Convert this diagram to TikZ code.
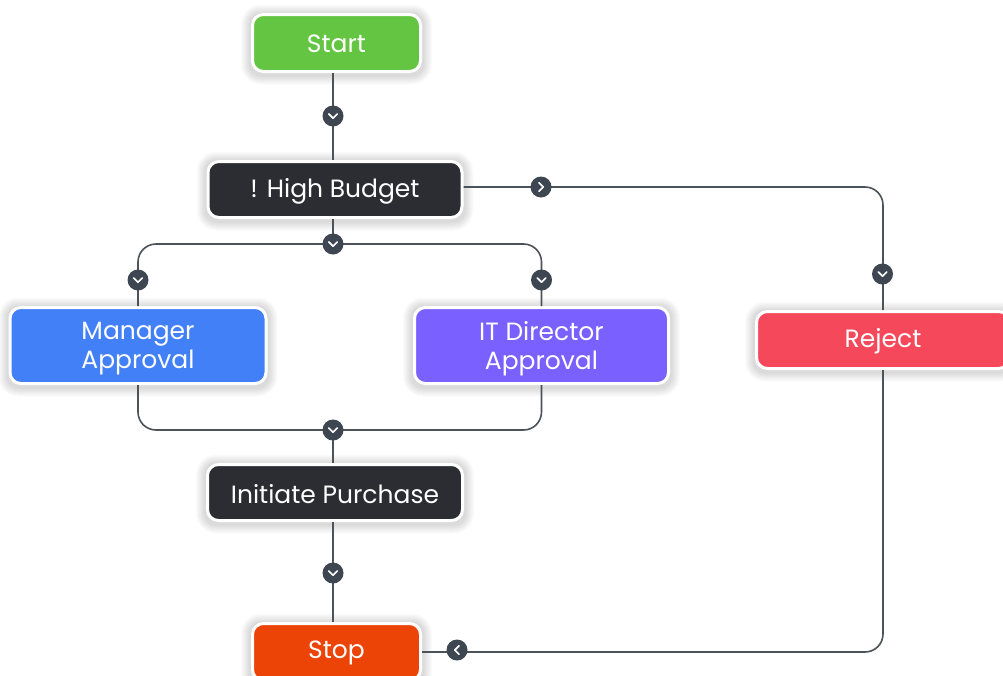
\documentclass[tikz,border=0pt]{standalone}
\usepackage{fontspec}
\setmainfont{Poppins}
\usetikzlibrary{calc,backgrounds}

\definecolor{cgreen}{HTML}{64C542}
\definecolor{cdark}{HTML}{2C2D33}
\definecolor{cblue}{HTML}{4280F8}
\definecolor{cpurple}{HTML}{7A60FE}
\definecolor{cred}{HTML}{F5495B}
\definecolor{corange}{HTML}{EC4307}
\definecolor{cline}{HTML}{4B5258}
\definecolor{cchev}{HTML}{3E4751}

\tikzset{
  box/.style={draw=white, line width=3pt, rounded corners=11pt, inner sep=0pt},
  lbl/.style={text=white, align=center, inner sep=0pt,
    font=\fontsize{25}{29}\selectfont},
  conn/.style={draw=cline, line width=1.6pt, rounded corners=18pt},
  chev/.style={circle, fill=cchev, minimum size=21pt, inner sep=0pt},
  chevdown/.style={chev, path picture={
    \draw[white, line width=1.7pt, line cap=round, line join=round]
      ([xshift=-4.2pt,yshift=2pt]path picture bounding box.center)
      -- ++(4.2pt,-4.2pt) -- ++(4.2pt,4.2pt);}},
  chevright/.style={chev, path picture={
    \draw[white, line width=1.7pt, line cap=round, line join=round]
      ([xshift=-2pt,yshift=4.2pt]path picture bounding box.center)
      -- ++(4.2pt,-4.2pt) -- ++(-4.2pt,-4.2pt);}},
  chevleft/.style={chev, path picture={
    \draw[white, line width=1.7pt, line cap=round, line join=round]
      ([xshift=2pt,yshift=4.2pt]path picture bounding box.center)
      -- ++(-4.2pt,-4.2pt) -- ++(4.2pt,-4.2pt);}},
}

\begin{document}
\begin{tikzpicture}[x=1pt, y=-1pt]
\clip (0,0) rectangle (1003,675);

% process boxes
\node[box, fill=cgreen, minimum width=168pt, minimum height=57pt] (start) at (336.5,43) {};
\node[box, fill=cdark, minimum width=254pt, minimum height=56pt] (budget) at (335,189.5) {};
\node[box, fill=cblue, minimum width=256pt, minimum height=76pt] (mgr) at (138,345.5) {};
\node[box, fill=cpurple, minimum width=254pt, minimum height=76pt] (it) at (541.5,345.5) {};
\node[box, fill=cred, minimum width=253pt, minimum height=57pt] (reject) at (883,340) {};
\node[box, fill=cdark, minimum width=255pt, minimum height=56pt] (buy) at (335,492.5) {};
\node[box, fill=corange, minimum width=168pt, minimum height=57pt] (stop) at (336.5,652) {};

% box texts
\node[lbl] (start-t)  at ($(start)+(0,1)$)  {Start};
\node[lbl] (budget-t) at ($(budget)+(0,2)$) {! High Budget};
\node[lbl] (mgr-t)    at ($(mgr)+(0,3)$)    {Manager\\Approval};
\node[lbl] (it-t)     at ($(it)+(0,3)$)     {IT Director\\Approval};
\node[lbl] (reject-t) at ($(reject)+(0,1.5)$) {Reject};
\node[lbl] (buy-t)    at ($(buy)+(0,2)$)    {Initiate Purchase};
\node[lbl] (stop-t)   at ($(stop)+(0,0.5)$) {Stop};

% soft shadows behind the boxes
\begin{pgfonlayer}{background}
\fill[white] (0,0) rectangle (1003,675);
\foreach \n in {start,budget,mgr,it,reject,buy,stop}{
  \foreach \i in {2,3,...,10}{
    \fill[black, opacity=0.014, rounded corners=10pt+\i pt]
      ($(\n.south west)+(-\i pt,-\i pt-1.5pt)$) rectangle
      ($(\n.north east)+(\i pt,\i pt-1.5pt)$);
  }
}
\end{pgfonlayer}

% junction points
\coordinate (j1) at (333,244);
\coordinate (j2) at (333,430);

% connectors
\draw[conn] (start.south -| j1) -- (budget.north -| j1);
\draw[conn] (budget.south -| j1) -- (j1);
\draw[conn] (j1) -| (mgr.north);
\draw[conn] (j1) -| (it.north);
\draw[conn] (mgr.south) |- (j2) -| (it.south);
\draw[conn] (j2) -- (buy.north -| j2);
\draw[conn] (buy.south -| j1) -- (stop.north -| j1);
\draw[conn] (budget.east |- 0,187) -| (reject.north);
\draw[conn] (reject.south) |- (stop.east);

% direction markers
\node[chevdown] (m1) at (333,116) {};
\node[chevdown] (m2) at (j1) {};
\node[chevdown] (m3) at ($(mgr.north)+(0,-26)$) {};
\node[chevdown] (m4) at ($(it.north)+(0,-26)$) {};
\node[chevdown] (m5) at (j2) {};
\node[chevdown] (m6) at (333,573) {};
\node[chevright] (m7) at (541,187) {};
\node[chevdown] (m8) at (882.5,274) {};
\node[chevleft] (m9) at (457,650) {};
\end{tikzpicture}
\end{document}
